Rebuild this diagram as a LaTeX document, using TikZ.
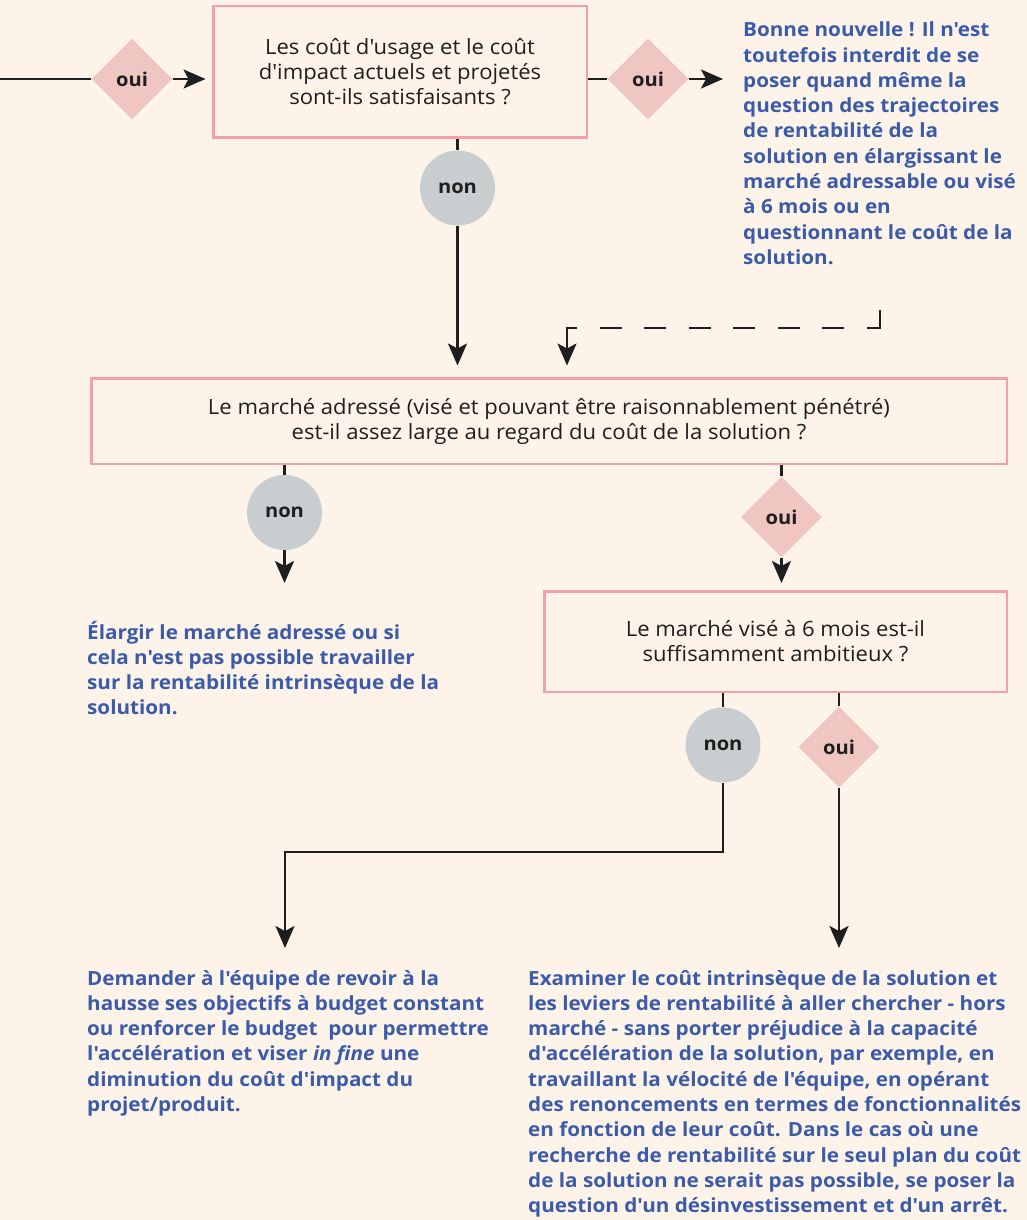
\documentclass[tikz,border=0pt]{standalone}
\usepackage{fontspec}
\setmainfont{Open Sans}[Ligatures=TeXOff, FakeStretch=1.06]
\newfontfamily\boxfont{Open Sans}[Ligatures=TeXOff, FakeStretch=1.05]
\usetikzlibrary{arrows.meta,shapes.geometric,positioning}
\definecolor{creambg}{HTML}{FEF3E8}
\definecolor{pinkline}{HTML}{F2A0AA}
\definecolor{pinkfill}{HTML}{EFC6C2}
\definecolor{greyfill}{HTML}{C8CECF}
\definecolor{blueans}{HTML}{3A5BAA}
\definecolor{inkdark}{HTML}{1E1E1E}

\tikzset{
  question/.style={draw=pinkline, line width=2.5pt, fill=creambg, align=center,
    inner sep=0pt, text=inkdark, font=\boxfont\fontsize{21}{25}\selectfont},
  ouidiam/.style={diamond, fill=pinkfill, minimum width=81pt, minimum height=81pt,
    inner sep=0pt, text=inkdark, font=\bfseries\fontsize{19}{20}\selectfont},
  noncirc/.style={circle, fill=greyfill, minimum size=75pt, inner sep=0pt,
    text=inkdark, font=\bfseries\fontsize{19}{20}\selectfont},
  answer/.style={anchor=base west, align=left, inner sep=0pt, text=blueans,
    font=\bfseries\fontsize{19.5}{25.3}\selectfont},
  link/.style={line width=2.6pt, draw=inkdark},
  arrowto/.style={-{Stealth[length=22pt,width=19pt,inset=5pt]}},
}

\begin{document}
\begin{tikzpicture}[x=1pt, y=-1pt]
    % Page and background
    \fill[creambg] (0,0) rectangle (1027,1220);
    \useasboundingbox (0,0) rectangle (1027,1220);

    % First question
    \node[question, minimum width=373.5pt, minimum height=131.5pt] (q1) at (400,72)
      {Les coût d'usage et le coût\\d'impact actuels et projetés\\sont-ils satisfaisants ?};
    \coordinate (entry) at (0,79);
    \node[ouidiam] (d1) at (132,79) {oui};
    \draw[link] (entry) -- (d1);
    \draw[link, arrowto, shorten >=6.5pt] (d1) -- (q1.west |- d1);

    \node[ouidiam] (d2) at (648,79) {oui};
    \coordinate (d2end) at (723,79);
    \draw[link] (q1.east |- d2) -- (d2);
    \draw[link, arrowto] (d2) -- (d2end);
    % anchor is the baseline of the last line
    \node[answer] (t1) at (743,264.4)
      {Bonne nouvelle ! Il n'est\\toutefois interdit de se\\poser quand même la\\question des trajectoires\\de rentabilité de la\\solution en élargissant le\\marché adressable ou visé\\à 6 mois ou en\\questionnant le coût de la\\solution.};

    \node[noncirc] (n1) at (457.5,188) {non};

    % Second question
    \node[question, minimum width=915.5pt, minimum height=85.5pt] (q2) at (549,421)
      {Le marché adressé (visé et pouvant être raisonnablement pénétré)\\est-il assez large au regard du coût de la solution ?};
    \draw[link] (n1 |- q1.south) -- (n1);
    \draw[link, arrowto, shorten >=11.5pt] (n1) -- (n1 |- q2.north);

    % dashed return from the answer
    \coordinate (dashfrom) at (880,310);
    \coordinate (dashcorner) at (567,328);
    \draw[link, arrowto, shorten >=11.5pt,
      dash pattern=on 31pt off 23pt on 22pt off 22.5pt on 22pt off 22.5pt on 22pt off 22.5pt
        on 22pt off 22.5pt on 22pt off 22.5pt on 22pt off 22.5pt on 120pt off 0pt]
      (dashfrom) |- (dashcorner) -- (dashcorner |- q2.north);

    \node[noncirc] (n2) at (284.5,512.5) {non};
    \coordinate (n2end) at (284.5,583);
    \draw[link] (n2 |- q2.south) -- (n2);
    \draw[link, arrowto] (n2) -- (n2end);
    \node[answer] (t2) at (87,714.9)
      {Élargir le marché adressé ou si\\cela n'est pas possible travailler\\sur la rentabilité intrinsèque de la\\solution.};

    \node[ouidiam] (d3) at (781.5,517) {oui};

    % Third question
    \node[question, minimum width=462.5pt, minimum height=100.5pt] (q3) at (775.5,641.5)
      {Le marché visé à 6 mois est-il\\suffisamment ambitieux ?};
    \draw[link] (d3 |- q2.south) -- (d3);
    \draw[link, arrowto, shorten >=7pt] (d3) -- (d3 |- q3.north);

    \node[noncirc] (n3) at (723,745) {non};
    \node[ouidiam] (d4) at (839,747) {oui};
    \coordinate (n3end) at (285,948);
    \coordinate (d4end) at (839,948);
    \draw[link] (n3 |- q3.south) -- (n3);
    \draw[link] (d4 |- q3.south) -- (d4);
    \draw[link, arrowto] (n3) |- (285,852) -- (n3end);
    \draw[link, arrowto] (d4) -- (d4end);

    % Final answers
    \node[answer] (t3) at (87,1111.5)
      {Demander à l'équipe de revoir à la\\hausse ses objectifs à budget constant\\ou renforcer le budget\ \ pour permettre\\l'accélération et viser \textit{in fine} une\\diminution du coût d'impact du\\projet/produit.};
    \node[answer] (t4) at (528,1212.7)
      {Examiner le coût intrinsèque de la solution et\\les leviers de rentabilité à aller chercher - hors\\marché - sans porter préjudice à la capacité\\d'accélération de la solution, par exemple, en\\travaillant la vélocité de l'équipe, en opérant\\des renoncements en termes de fonctionnalités\\en fonction de leur coût. Dans le cas où une\\recherche de rentabilité sur le seul plan du coût\\de la solution ne serait pas possible, se poser la\\question d'un désinvestissement et d'un arrêt.};
\end{tikzpicture}
\end{document}
